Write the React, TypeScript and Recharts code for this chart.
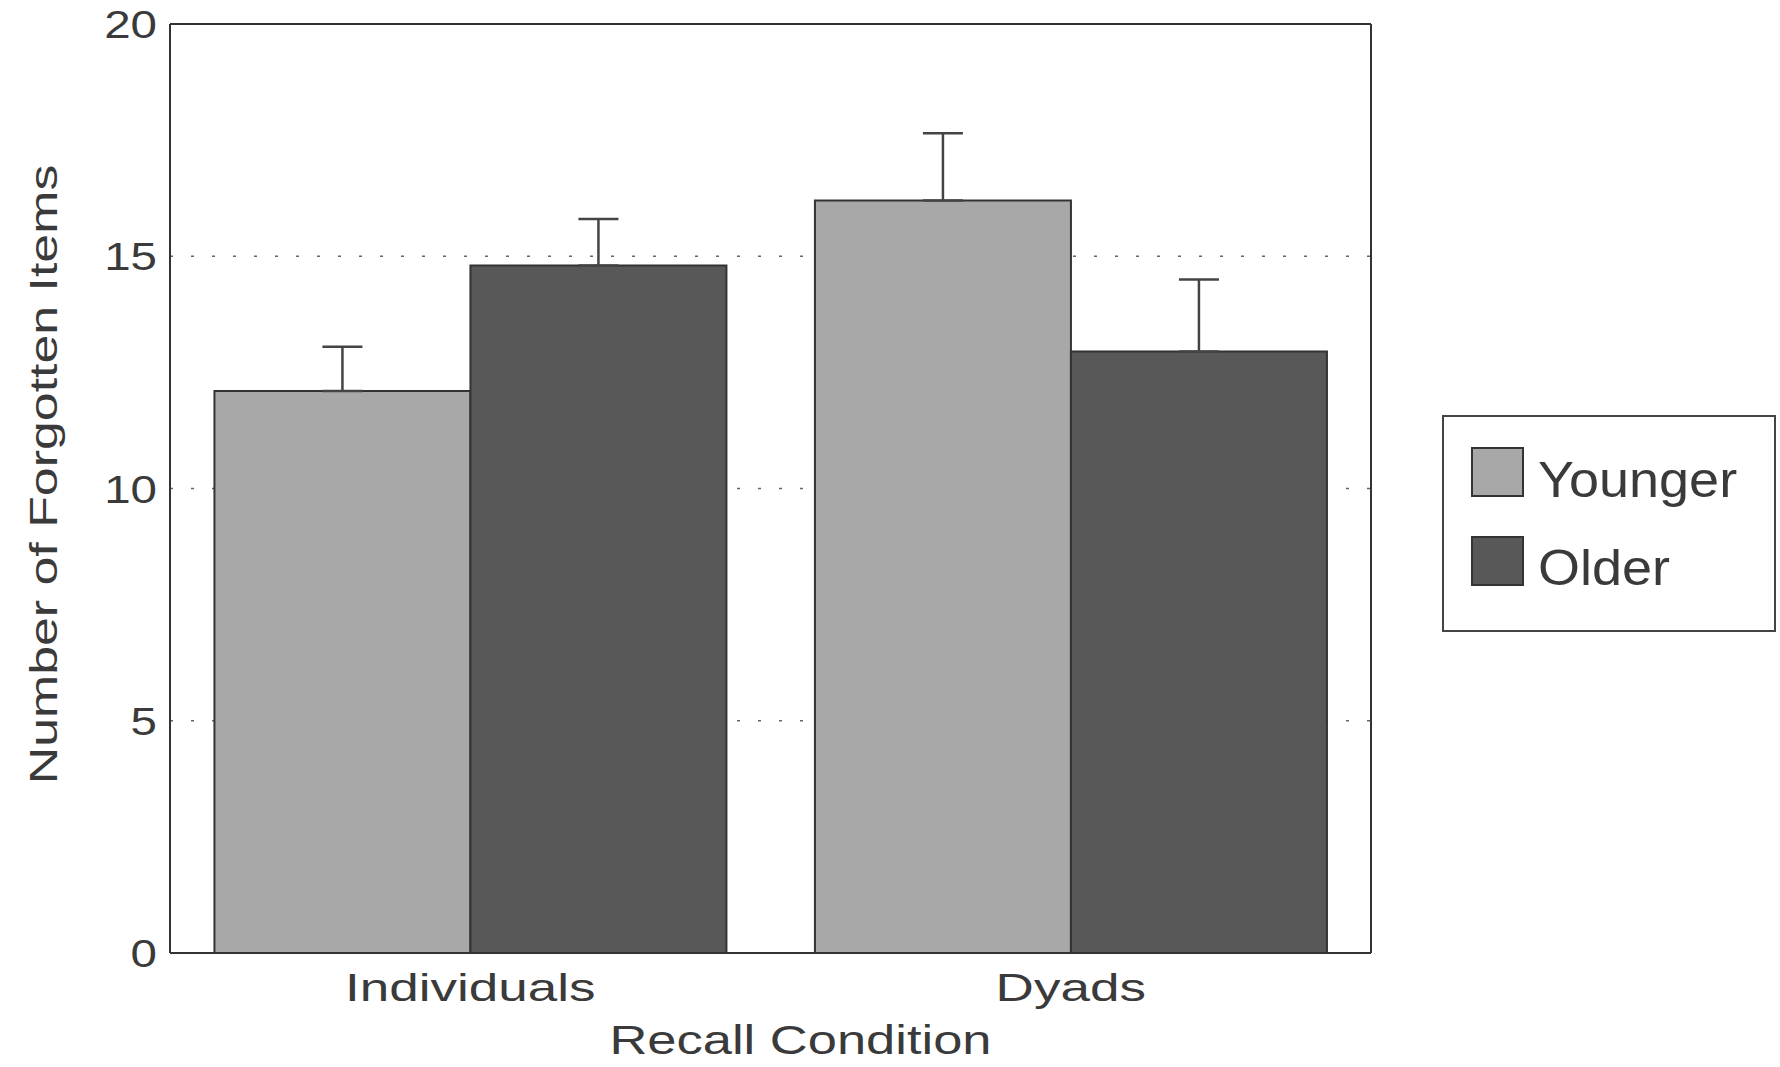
import { Bar, BarChart, CartesianGrid, ErrorBar, XAxis, YAxis } from "recharts";

const categories = ["Individuals", "Dyads"];
const youngerValues = [12.1, 16.2];
const olderValues = [14.8, 12.95];
const youngerErrors = [0.95, 1.45];
const olderErrors = [1.0, 1.55];
const yTicks = [0, 5, 10, 15, 20];
const seriesNames = ["Younger", "Older"];

const FONT = "'Liberation Sans', Arial, Helvetica, sans-serif";
const TEXT_COLOR = "#3a3a3a";
const YOUNGER_FILL = "#a8a8a8";
const OLDER_FILL = "#585858";

const data = categories.map((name, i) => ({
  name,
  younger: youngerValues[i],
  older: olderValues[i],
  youngerErr: [0, youngerErrors[i]],
  olderErr: [0, olderErrors[i]],
}));

function XTick({ x, y, payload }: any) {
  return (
    <g transform={`translate(${x},${y + 48}) scale(1.36,1)`}>
      <text textAnchor="middle" fontFamily={FONT} fontSize={39} fill={TEXT_COLOR}>
        {payload.value}
      </text>
    </g>
  );
}

function YTick({ x, y, payload }: any) {
  return (
    <g transform={`translate(${x - 13},${y + 14}) scale(1.25,1)`}>
      <text textAnchor="end" fontFamily={FONT} fontSize={38} fill={TEXT_COLOR}>
        {payload.value}
      </text>
    </g>
  );
}

function XTitle({ viewBox }: any) {
  const cx = viewBox.x + viewBox.width / 2 + 30;
  return (
    <g transform={`translate(${cx},${viewBox.y + 101}) scale(1.28,1)`}>
      <text textAnchor="middle" fontFamily={FONT} fontSize={41} fill={TEXT_COLOR}>
        Recall Condition
      </text>
    </g>
  );
}

function YTitle({ viewBox }: any) {
  const cy = viewBox.y + viewBox.height / 2 - 14;
  return (
    <g transform={`translate(${viewBox.x - 112},${cy}) rotate(-90) scale(1.33,1)`}>
      <text textAnchor="middle" fontFamily={FONT} fontSize={39} fill={TEXT_COLOR}>
        Number of Forgotten Items
      </text>
    </g>
  );
}

function LegendBox() {
  const fills = [YOUNGER_FILL, OLDER_FILL];
  return (
    <svg
      width={334}
      height={217}
      style={{ position: "absolute", left: 1442, top: 415 }}
    >
      <rect x={1} y={1} width={332} height={215} fill="#fff" stroke="#444" strokeWidth={2} />
      {seriesNames.map((label, i) => (
        <g key={label}>
          <rect
            x={30}
            y={33 + i * 89}
            width={51}
            height={48}
            fill={fills[i]}
            stroke="#333"
            strokeWidth={2}
          />
          <g transform={`translate(96,${82 + i * 88}) scale(1.08,1)`}>
            <text fontFamily={FONT} fontSize={50} fill={TEXT_COLOR}>
              {label}
            </text>
          </g>
        </g>
      ))}
    </svg>
  );
}

export default function App() {
  return (
    <div style={{ position: "absolute", left: 0, top: 0, width: 1780, height: 1067, background: "#fff" }}>
      <BarChart
        width={1780}
        height={1067}
        data={data}
        margin={{ top: 23, right: 408, bottom: 113, left: 169 }}
        barCategoryGap="7.4%"
        barGap={0}
      >
        <CartesianGrid
          vertical={false}
          stroke="#666"
          strokeWidth={1.5}
          strokeDasharray="3 18"
        />
        <XAxis
          dataKey="name"
          height={1}
          tickLine={false}
          tickSize={0}
          tickMargin={0}
          axisLine={{ stroke: "#333", strokeWidth: 2 }}
          tick={<XTick />}
          label={<XTitle />}
        />
        <XAxis
          xAxisId="top"
          dataKey="name"
          orientation="top"
          height={1}
          tick={false}
          tickLine={false}
          axisLine={{ stroke: "#333", strokeWidth: 2 }}
        />
        <YAxis
          width={1}
          domain={[0, 20]}
          ticks={yTicks}
          tickLine={false}
          tickSize={0}
          tickMargin={0}
          axisLine={{ stroke: "#333", strokeWidth: 2 }}
          tick={<YTick />}
          label={<YTitle />}
        />
        <YAxis
          yAxisId="right"
          orientation="right"
          width={1}
          domain={[0, 20]}
          tick={false}
          tickLine={false}
          axisLine={{ stroke: "#333", strokeWidth: 2 }}
        />
        <Bar
          dataKey="younger"
          name="Younger"
          fill={YOUNGER_FILL}
          stroke="#333"
          strokeWidth={2}
          isAnimationActive={false}
        >
          <ErrorBar dataKey="youngerErr" width={20} stroke="#444" strokeWidth={2.5} direction="y" />
        </Bar>
        <Bar
          dataKey="older"
          name="Older"
          fill={OLDER_FILL}
          stroke="#333"
          strokeWidth={2}
          isAnimationActive={false}
        >
          <ErrorBar dataKey="olderErr" width={20} stroke="#444" strokeWidth={2.5} direction="y" />
        </Bar>
      </BarChart>
      <LegendBox />
    </div>
  );
}
